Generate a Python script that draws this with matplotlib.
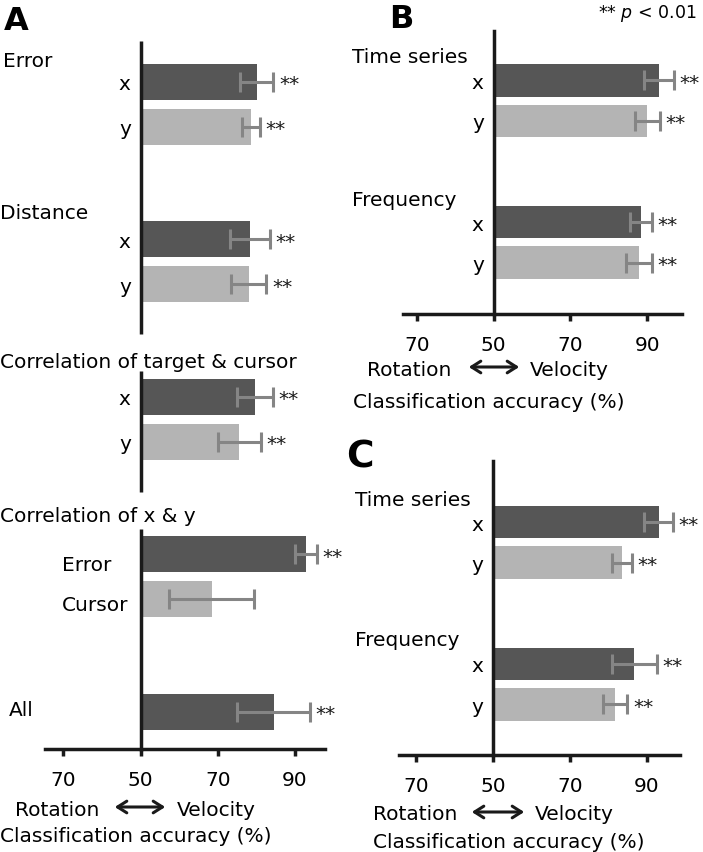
import numpy as np
import matplotlib
matplotlib.use('Agg')
import matplotlib.pyplot as plt
import matplotlib.transforms as mtransforms
from matplotlib.patches import FancyArrowPatch

plt.rcParams['font.family'] = ['DejaVu Sans']
plt.rcParams['mathtext.fontset'] = 'dejavusans'

W, H = 703, 853
DARK = '#565656'
LIGHT = '#b4b4b4'
ERRC = '#858585'
INK = '#1a1a1a'
FS = 14.5

# ---------------- data ----------------
tick_pos = [30, 50, 70, 90]
tick_labels = ['70', '50', '70', '90']

A_groups = ['Error', 'Distance', 'Correlation of target & cursor', 'Correlation of x & y']
A_labels = ['x', 'y', 'x', 'y', 'x', 'y', 'Error', 'Cursor', 'All']
A_values = [80.1, 78.6, 78.3, 78.0, 79.6, 75.6, 92.9, 68.5, 84.5]
A_errors = [4.3, 2.3, 5.1, 4.6, 4.7, 5.6, 2.8, 11.0, 9.4]
A_sig = [True, True, True, True, True, True, True, False, True]

B_groups = ['Time series', 'Frequency']
B_labels = ['x', 'y', 'x', 'y']
B_values = [93.0, 90.1, 88.4, 87.8]
B_errors = [3.9, 3.3, 2.8, 3.4]
B_sig = [True, True, True, True]

C_groups = ['Time series', 'Frequency']
C_labels = ['x', 'y', 'x', 'y']
C_values = [93.0, 83.4, 86.7, 81.7]
C_errors = [3.8, 2.6, 5.8, 3.2]
C_sig = [True, True, True, True]

# ---------------- layout ----------------
fig = plt.figure(figsize=(W / 100, H / 100), dpi=100)
PX = mtransforms.Affine2D().scale(1, -1).translate(0, H).scale(1 / 100) + fig.dpi_scale_trans


def make_ax(left, right, top, bottom, xlim, ylim, left_spine=True):
    ax = fig.add_axes([left / W, 1 - bottom / H, (right - left) / W, (bottom - top) / H])
    ax.set_xlim(*xlim)
    ax.set_ylim(*ylim)
    for s in ['top', 'right']:
        ax.spines[s].set_visible(False)
    ax.spines['left'].set_position(('data', 50))
    ax.spines['left'].set_visible(left_spine)
    for s in ['left', 'bottom']:
        ax.spines[s].set_linewidth(2.5)
        ax.spines[s].set_color(INK)
    ax.set_xticks(tick_pos, tick_labels)
    ax.tick_params(axis='x', direction='out', length=5, width=2.5, labelsize=FS,
                   pad=10, color=INK)
    ax.tick_params(axis='y', length=0, labelsize=FS, pad=7)
    ax.patch.set_alpha(0)
    return ax


def draw(ax, pos, vals, errs, sig, labels):
    cols = [DARK if (l in ('x', 'Error', 'All')) else LIGHT for l in labels]
    ax.barh(pos, np.array(vals) - 50, left=50, height=0.8, color=cols, zorder=2)
    ax.errorbar(vals, pos, xerr=errs, fmt='none', ecolor=ERRC, elinewidth=2.2,
                capsize=7, capthick=2.2, zorder=3)
    for v, e, p, s in zip(vals, errs, pos, sig):
        if s:
            ax.annotate('**', xy=(v + e, p), xytext=(4, -1.5), textcoords='offset points',
                        ha='left', va='center', fontsize=FS, color=INK)


def bottom_texts(rot_x, arrow_x0, arrow_x1, vel_x, y1, cls_x, y2):
    fig.text(rot_x, y1 + 2, 'Rotation', transform=PX, ha='left', va='center', fontsize=FS)
    fig.text(vel_x, y1 + 2, 'Velocity', transform=PX, ha='left', va='center', fontsize=FS)
    fig.text(cls_x, y2 + 2, 'Classification accuracy (%)', transform=PX, ha='left',
             va='center', fontsize=FS)
    arr = FancyArrowPatch((arrow_x0, y1), (arrow_x1, y1), transform=PX,
                          arrowstyle='<->,head_length=0.55,head_width=0.35',
                          mutation_scale=12, lw=2.2, color=INK)
    fig.add_artist(arr)


# ---------------- panel A ----------------
A_top, A_bot = 42, 750
axA = make_ax(45, 325, A_top, A_bot, (25.27, 97.77), (14.83, -0.9), left_spine=False)
# vertical 50% line, interrupted where the long group titles cross it
TvA = mtransforms.blended_transform_factory(axA.transData, axA.transAxes)
for y0, y1 in [(42, 335), (372, 493), (530, 752)]:
    axA.plot([50, 50], [(A_bot - y0) / (A_bot - A_top), (A_bot - y1) / (A_bot - A_top)],
             transform=TvA, color=INK, lw=2.5, solid_capstyle='butt', zorder=2.5,
             clip_on=False)
A_pos = [0, 1, 3.5, 4.5, 7, 8, 10.5, 11.5, 14]
draw(axA, A_pos, A_values, A_errors, A_sig, A_labels)
axA.set_yticks(A_pos[:6], A_labels[:6])
TA = mtransforms.blended_transform_factory(PX, axA.transData)
A_group_first = [0, 3.5, 7, 10.5]
A_group_off = [-0.46, -0.58, -0.79, -0.85]
A_group_x = [3, 0, 0, 0]
for g, f, o, gx in zip(A_groups, A_group_first, A_group_off, A_group_x):
    axA.text(gx, f + o, g, transform=TA, ha='left', va='center', fontsize=FS)
for lab, p, o in zip(A_labels[6:8], A_pos[6:8], [0.24, 0.11]):
    axA.text(62, p + o, lab, transform=TA, ha='left', va='center', fontsize=FS)
axA.text(9, A_pos[8] - 0.04, A_labels[8], transform=TA, ha='left', va='center', fontsize=FS)
bottom_texts(15, 112, 168, 177, 808, 0, 835)

# ---------------- panel B ----------------
axB = make_ax(403, 682, 32, 315, (26.43, 99.09), (5.77, -1.22))
BC_pos = [0, 1, 3.5, 4.5]
draw(axB, BC_pos, B_values, B_errors, B_sig, B_labels)
axB.set_yticks(BC_pos, B_labels)
TB = mtransforms.blended_transform_factory(PX, axB.transData)
for g, yy in zip(B_groups, [-0.6, 2.93]):
    axB.text(352, yy, g, transform=TB, ha='left', va='center', fontsize=FS)
bottom_texts(367, 466, 522, 530, 368, 353, 400)

# ---------------- panel C ----------------
axC = make_ax(399, 680, 462, 756, (25.58, 98.57), (5.75, -1.51))
draw(axC, BC_pos, C_values, C_errors, C_sig, C_labels)
axC.set_yticks(BC_pos, C_labels)
TC = mtransforms.blended_transform_factory(PX, axC.transData)
for g, yy in zip(C_groups, [-0.57, 2.89]):
    axC.text(355, yy, g, transform=TC, ha='left', va='center', fontsize=FS)
bottom_texts(373, 469, 527, 535, 813, 373, 840)

# ---------------- panel letters & legend ----------------
fig.text(4, 30, 'A', transform=PX, ha='left', va='baseline', fontsize=23, fontweight='bold')
fig.text(389, 28, 'B', transform=PX, ha='left', va='baseline', fontsize=23, fontweight='bold')
fig.text(346, 467, 'C', transform=PX, ha='left', va='baseline', fontsize=27, fontweight='bold')
fig.text(598, 13, r'** $p$ < 0.01', transform=PX, ha='left', va='center', fontsize=12.5)

fig.savefig('out.png', dpi=100)
